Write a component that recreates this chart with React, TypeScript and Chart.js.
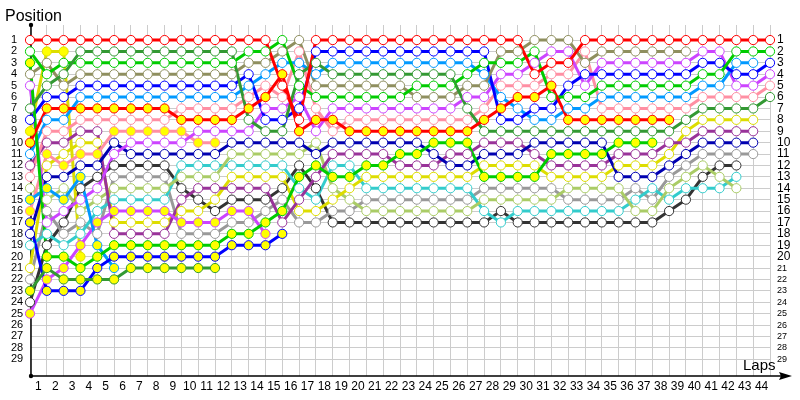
import React, { useEffect, useRef } from 'react';
import { Chart, registerables } from 'chart.js';
Chart.register(...registerables);

const _ = null;

// lap columns (0 = start), labels 1..44 between columns
const lapCols = [0,1,2,3,4,5,6,7,8,9,10,11,12,13,14,15,16,17,18,19,20,21,22,23,24,25,26,27,28,29,30,31,32,33,34,35,36,37,38,39,40,41,42,43,44];
const lapLabels = [1,2,3,4,5,6,7,8,9,10,11,12,13,14,15,16,17,18,19,20,21,22,23,24,25,26,27,28,29,30,31,32,33,34,35,36,37,38,39,40,41,42,43,44];
const positionTicks = [1,2,3,4,5,6,7,8,9,10,11,12,13,14,15,16,17,18,19,20,21,22,23,24,25,26,27,28,29];

const redA = [1,1,1,1,1,1,1,1,1,1,1,1,1,1,1,5,8,1,1,1,1,1,1,1,1,1,1,1,1,1,4,3,3,1,1,1,1,1,1,1,1,1,1,1,1];
const redB = [10,7,7,7,7,7,7,7,7,8,8,8,8,7,6,4,9,8,8,9,9,9,9,9,9,9,9,8,7,6,6,5,8,8,8,8,8,8,8,_,_,_,_,_,_];
const fgA = [7,5,4,2,2,2,2,2,2,2,2,2,2,8,9,9,4,3,4,4,4,4,4,4,4,4,7,9,9,9,9,9,9,9,9,9,9,9,9,8,7,7,7,7,6];
const fgB = [23,21,22,22,22,22,21,21,21,21,21,21,_,_,_,_,_,_,_,_,_,_,_,_,_,_,_,_,_,_,_,_,_,_,_,_,_,_,_,_,_,_,_,_,_];
const limeA = [2,4,3,3,3,3,3,3,3,3,3,3,3,2,2,1,5,6,6,6,6,6,6,5,5,5,4,3,3,3,2,6,6,6,5,5,5,5,5,5,4,4,2,2,2];
const limeB = [3,20,20,21,20,19,19,19,19,19,19,19,18,18,17,16,13,12,13,13,12,12,11,11,10,10,10,13,13,13,13,11,11,11,11,10,10,10,_,_,_,_,_,_,_];
const olive = [4,3,5,4,4,4,4,4,4,4,4,4,4,3,3,2,1,5,5,5,5,5,5,6,6,6,5,5,2,2,1,1,1,3,2,2,2,2,2,2,_,_,_,_,_];
const blueA = [8,6,6,5,5,5,5,5,5,5,5,5,5,4,8,8,7,2,2,2,2,2,2,2,2,2,2,2,8,8,7,7,5,4,4,4,4,4,4,4,3,3,4,4,3];
const blueB = [17,23,23,23,21,20,20,20,20,20,20,20,19,19,19,18,_,_,_,_,_,_,_,_,_,_,_,_,_,_,_,_,_,_,_,_,_,_,_,_,_,_,_,_,_];
const skyA = [11,8,8,6,6,6,6,6,6,6,6,6,6,5,4,3,3,4,3,3,3,3,3,3,3,3,3,4,6,7,8,8,7,7,6,6,6,6,6,6,5,5,3,3,_];
const skyB = [15,14,15,13,19,21,_,_,_,_,_,_,_,_,_,_,_,_,_,_,_,_,_,_,_,_,_,_,_,_,_,_,_,_,_,_,_,_,_,_,_,_,_,_,_];
const magentaA = [5,17,16,15,14,11,10,10,10,10,9,9,9,9,7,7,6,9,7,7,7,7,7,7,7,7,6,6,4,4,3,2,2,5,3,3,3,3,3,3,2,2,5,5,4];
const magentaB = [25,22,21,19,17,16,16,16,16,17,17,17,16,16,18,_,_,_,_,_,_,_,_,_,_,_,_,_,_,_,_,_,_,_,_,_,_,_,_,_,_,_,_,_,_];
const pinkA = [13,9,9,8,8,8,8,8,8,7,7,7,7,6,5,6,2,7,9,8,8,8,8,8,8,8,8,7,5,5,5,4,4,2,7,7,7,7,7,7,6,6,6,6,5];
const pinkB = [16,11,12,11,11,9,9,9,9,9,10,10,_,_,_,_,_,_,_,_,_,_,_,_,_,_,_,_,_,_,_,_,_,_,_,_,_,_,_,_,_,_,_,_,_];
const darkBlue = [18,13,13,12,12,10,11,11,11,11,11,11,10,10,10,10,10,11,10,10,10,10,10,10,11,12,12,11,11,11,10,10,10,10,10,13,13,13,12,11,10,10,10,10,_];
const purple = [12,10,10,9,9,18,18,18,18,15,14,14,14,14,14,17,15,13,11,11,11,11,12,12,12,11,11,10,10,10,11,12,12,12,12,11,11,11,10,10,9,9,9,9,_];
const yellowA = [21,12,11,10,10,17,17,17,17,16,16,15,13,13,13,13,16,16,15,14,13,13,13,13,13,13,13,12,12,12,12,13,13,13,13,12,12,12,11,9,8,8,8,8,_];
const yellowB = [9,2,2,20,_,_,_,_,_,_,_,_,_,_,_,_,_,_,_,_,_,_,_,_,_,_,_,_,_,_,_,_,_,_,_,_,_,_,_,_,_,_,_,_,_];
const lightGreen = [14,15,14,16,15,14,14,14,14,13,13,13,11,11,11,11,11,10,14,15,16,16,16,16,16,16,16,15,15,15,15,15,14,14,14,14,16,16,14,13,12,13,14,_,_];
const cyan = [19,18,19,18,16,15,15,15,15,12,12,12,12,12,12,12,14,15,12,12,14,14,14,14,14,14,14,16,17,16,16,16,16,16,16,16,15,14,15,14,14,14,13,_,_];
const gray = [22,16,18,17,18,13,13,13,13,18,18,18,17,17,16,15,17,17,16,16,15,15,15,15,15,15,15,14,14,14,14,14,15,15,15,15,14,15,13,12,11,11,11,11,_];
const black = [24,19,17,14,13,12,12,12,12,14,15,16,15,15,15,14,12,14,17,17,17,17,17,17,17,17,17,17,16,17,17,17,17,17,17,17,17,17,16,15,13,12,12,_,_];

const W = '#ffffff';
const Y = '#ffff00';

const series = [
  { name: 'redA', data: redA, color: '#ff0000', fill: W },
  { name: 'redB', data: redB, color: '#ff0000', fill: Y },
  { name: 'fgA', data: fgA, color: '#339933', fill: W },
  { name: 'fgB', data: fgB, color: '#339933', fill: Y },
  { name: 'limeA', data: limeA, color: '#00cc00', fill: W },
  { name: 'limeB', data: limeB, color: '#00cc00', fill: Y },
  { name: 'olive', data: olive, color: '#8f8f5f', fill: W },
  { name: 'blueA', data: blueA, color: '#0000ff', fill: W },
  { name: 'blueB', data: blueB, color: '#0000ff', fill: Y },
  { name: 'skyA', data: skyA, color: '#0099ff', fill: W },
  { name: 'skyB', data: skyB, color: '#0099ff', fill: Y },
  { name: 'magentaA', data: magentaA, color: '#cc44ff', fill: W },
  { name: 'magentaB', data: magentaB, color: '#cc44ff', fill: Y },
  { name: 'pinkA', data: pinkA, color: '#ff8fa3', fill: W },
  { name: 'pinkB', data: pinkB, color: '#ff8fa3', fill: Y },
  { name: 'darkBlue', data: darkBlue, color: '#0000b0', fill: W },
  { name: 'purple', data: purple, color: '#993399', fill: W },
  { name: 'yellowA', data: yellowA, color: '#dddd00', fill: W },
  { name: 'yellowB', data: yellowB, color: '#dddd00', fill: Y },
  { name: 'lightGreen', data: lightGreen, color: '#aacc66', fill: W },
  { name: 'cyan', data: cyan, color: '#33cccc', fill: W },
  { name: 'gray', data: gray, color: '#999999', fill: W },
  { name: 'black', data: black, color: '#333333', fill: W },
];

const FONT = 'Liberation Sans, Arial, sans-serif';

const decor = {
  id: 'decor',
  beforeDatasetsDraw(chart: any) {
    const { ctx, chartArea } = chart;
    const { left, top, bottom } = chartArea;
    ctx.save();
    ctx.strokeStyle = '#000';
    ctx.fillStyle = '#000';
    ctx.lineWidth = 1.5;
    ctx.beginPath();
    ctx.moveTo(left + 1, top);
    ctx.lineTo(left + 1, bottom);
    ctx.lineTo(782, bottom);
    ctx.stroke();
    ctx.beginPath();
    ctx.moveTo(792, bottom);
    ctx.lineTo(779, bottom - 4);
    ctx.lineTo(781, bottom);
    ctx.lineTo(779, bottom + 4);
    ctx.closePath();
    ctx.fill();
    ctx.beginPath();
    ctx.arc(left + 1, top, 2.2, 0, Math.PI * 2);
    ctx.fill();
    ctx.beginPath();
    ctx.arc(left + 1, bottom, 2.2, 0, Math.PI * 2);
    ctx.fill();
    ctx.restore();
  },
  afterDraw(chart: any) {
    const { ctx } = chart;
    ctx.save();
    ctx.fillStyle = '#000';
    ctx.textBaseline = 'alphabetic';
    ctx.textAlign = 'left';
    ctx.font = '16px ' + FONT;
    ctx.fillText('Position', 5, 21);
    ctx.font = '15px ' + FONT;
    ctx.fillText('Laps', 743, 370);
    ctx.restore();
  },
};

export default function App() {
  const ref = useRef<HTMLCanvasElement>(null);
  useEffect(() => {
    document.body.style.margin = '0';
    const canvas = ref.current;
    if (!canvas) return;
    const toPts = (arr: (number | null)[]) => arr.map((v, i) => ({ x: lapCols[i], y: v }));
    // lines underneath, markers on top
    const lineSets = series.map((s) => ({
      label: s.name + '-line',
      data: toPts(s.data),
      borderColor: s.color,
      backgroundColor: s.color,
      pointRadius: 0,
      borderWidth: 3,
      tension: 0,
      spanGaps: false,
      order: 2,
      clip: false as any,
    }));
    const pointSets = series.map((s) => ({
      label: s.name,
      data: toPts(s.data),
      showLine: false,
      borderColor: s.color,
      backgroundColor: s.fill,
      pointBackgroundColor: s.fill,
      pointBorderColor: s.color,
      pointRadius: 4.6,
      pointBorderWidth: 1,
      order: 1,
      clip: false as any,
    }));
    const chart = new Chart(canvas, {
      type: 'line',
      data: { datasets: [...lineSets, ...pointSets] as any },
      plugins: [decor],
      options: {
        animation: false,
        responsive: false,
        maintainAspectRatio: false,
        layout: { padding: { top: 25, left: 11, right: 0, bottom: 0 } },
        plugins: { legend: { display: false }, tooltip: { enabled: false }, title: { display: false } },
        scales: {
          x: {
            type: 'linear',
            min: 0,
            max: 44,
            afterBuildTicks: (s: any) => { s.ticks = lapCols.map((v) => ({ value: v })); },
            afterFit: (s: any) => { s.height = 24; },
            ticks: {
              autoSkip: false,
              maxRotation: 0,
              minRotation: 0,
              labelOffset: 8.4,
              padding: 3,
              color: '#000',
              font: { family: FONT, size: 12 },
              callback: (v: any) => (v < 44 ? String(lapLabels[v]) : ''),
            },
            grid: { color: '#cccccc', lineWidth: 1, drawTicks: false },
            border: { display: false },
          },
          y: {
            type: 'linear',
            position: 'left',
            reverse: true,
            min: -0.32,
            max: 30.47,
            afterBuildTicks: (s: any) => { s.ticks = positionTicks.map((v) => ({ value: v })); },
            afterFit: (s: any) => { s.width = 19; },
            ticks: {
              autoSkip: false,
              crossAlign: 'far',
              padding: 0,
              color: '#000',
              font: { family: FONT, size: 11 },
            },
            grid: { color: '#cccccc', lineWidth: 1, drawTicks: false },
            border: { display: false },
          },
          y2: {
            type: 'linear',
            position: 'right',
            reverse: true,
            min: -0.32,
            max: 30.47,
            afterBuildTicks: (s: any) => { s.ticks = positionTicks.map((v) => ({ value: v })); },
            afterFit: (s: any) => { s.width = 30; },
            ticks: {
              autoSkip: false,
              padding: 7,
              color: '#000',
              font: (c: any) => ({ family: FONT, size: c.tick && c.tick.value > 20 ? 9 : 12 }),
            },
            grid: { display: false, drawTicks: false },
            border: { display: false },
          },
        },
      },
    });
    return () => chart.destroy();
  }, []);
  return (
    <div style={{ width: 800, height: 400 }}>
      <canvas ref={ref} width={800} height={400} />
    </div>
  );
}
